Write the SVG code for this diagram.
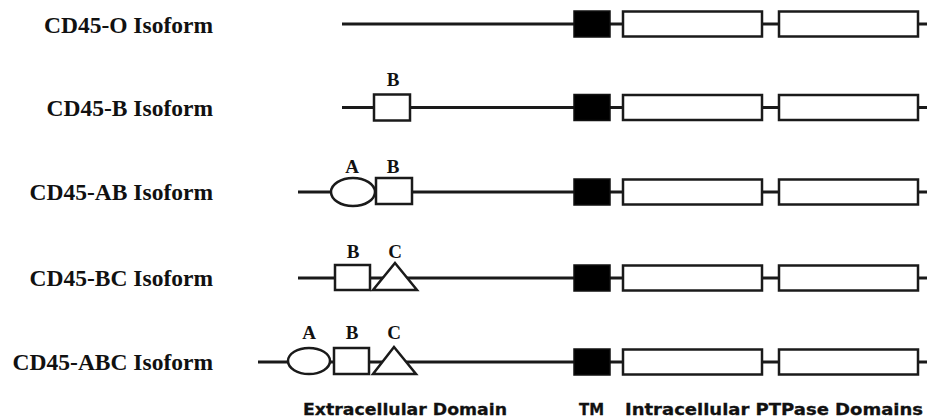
<svg xmlns="http://www.w3.org/2000/svg" width="927" height="419" viewBox="0 0 927 419">
  <style>
    .bg { fill: #ffffff; }
    .backbone { stroke: #1a1a1a; stroke-width: 3; fill: none; }
    .tm { fill: #000000; stroke: #111111; stroke-width: 1.5; }
    .dom { fill: #ffffff; stroke: #1a1a1a; stroke-width: 2.5; }
    .exon { fill: #ffffff; stroke: #1a1a1a; stroke-width: 2.5; }
    .name { font-family: "Liberation Serif", "Times New Roman", serif; font-weight: bold; font-size: 23.5px; fill: #111111; text-anchor: end; }
    .exlabel { font-family: "Liberation Serif", "Times New Roman", serif; font-weight: bold; font-size: 19px; fill: #111111; text-anchor: middle; }
    .axis { font-family: "DejaVu Sans", Verdana, sans-serif; font-weight: bold; font-size: 16px; fill: #111111; stroke: #111111; stroke-width: 0.3; }
  </style>
  <defs>
    <!-- shared transmembrane + two PTPase domains, placed at row origin -->
    <g id="cyto">
      <rect class="tm" x="574" y="-13" width="36" height="26"/>
      <rect class="dom" x="623" y="-12.5" width="139" height="25"/>
      <rect class="dom" x="779" y="-12.5" width="139" height="25"/>
    </g>
  </defs>
  <rect class="bg" x="0" y="0" width="927" height="419"/>

  <!-- backbone lines of each isoform -->
  <g id="connectors">
    <line class="backbone" x1="342" y1="24" x2="927" y2="24"/>
    <line class="backbone" x1="342" y1="107.5" x2="927" y2="107.5"/>
    <line class="backbone" x1="298" y1="192" x2="927" y2="192"/>
    <line class="backbone" x1="298" y1="278" x2="927" y2="278"/>
    <line class="backbone" x1="258" y1="362" x2="927" y2="362"/>
  </g>

  <g id="cd45-o">
    <text class="name" x="213" y="33">CD45-O Isoform</text>
    <use href="#cyto" transform="translate(0,24)"/>
  </g>

  <g id="cd45-b">
    <text class="name" x="213" y="116">CD45-B Isoform</text>
    <rect class="exon" x="374" y="94.5" width="36" height="26"/>
    <text class="exlabel" x="393" y="86">B</text>
    <use href="#cyto" transform="translate(0,107.5)"/>
  </g>

  <g id="cd45-ab">
    <text class="name" x="213" y="200">CD45-AB Isoform</text>
    <ellipse class="exon" cx="353" cy="192" rx="22" ry="14"/>
    <rect class="exon" x="376" y="178" width="36" height="26"/>
    <text class="exlabel" x="352" y="173">A</text>
    <text class="exlabel" x="393" y="173">B</text>
    <use href="#cyto" transform="translate(0,192)"/>
  </g>

  <g id="cd45-bc">
    <text class="name" x="213" y="286">CD45-BC Isoform</text>
    <rect class="exon" x="335" y="265" width="35" height="25"/>
    <polygon class="exon" points="395,263 417,290 373,290"/>
    <text class="exlabel" x="353" y="258">B</text>
    <text class="exlabel" x="395" y="258">C</text>
    <use href="#cyto" transform="translate(0,278)"/>
  </g>

  <g id="cd45-abc">
    <text class="name" x="213" y="370">CD45-ABC Isoform</text>
    <ellipse class="exon" cx="309" cy="361" rx="21" ry="13"/>
    <rect class="exon" x="334" y="348" width="35" height="26"/>
    <polygon class="exon" points="394,347 416,374 373,374"/>
    <text class="exlabel" x="309" y="339">A</text>
    <text class="exlabel" x="352" y="339">B</text>
    <text class="exlabel" x="394" y="339">C</text>
    <use href="#cyto" transform="translate(0,362)"/>
  </g>

  <g id="domain-labels">
    <text class="axis" x="303" y="415" textLength="204" lengthAdjust="spacingAndGlyphs">Extracellular Domain</text>
    <text class="axis" x="579" y="415" textLength="25" lengthAdjust="spacingAndGlyphs">TM</text>
    <text class="axis" x="625" y="415" textLength="298" lengthAdjust="spacingAndGlyphs">Intracellular PTPase Domains</text>
  </g>
</svg>
